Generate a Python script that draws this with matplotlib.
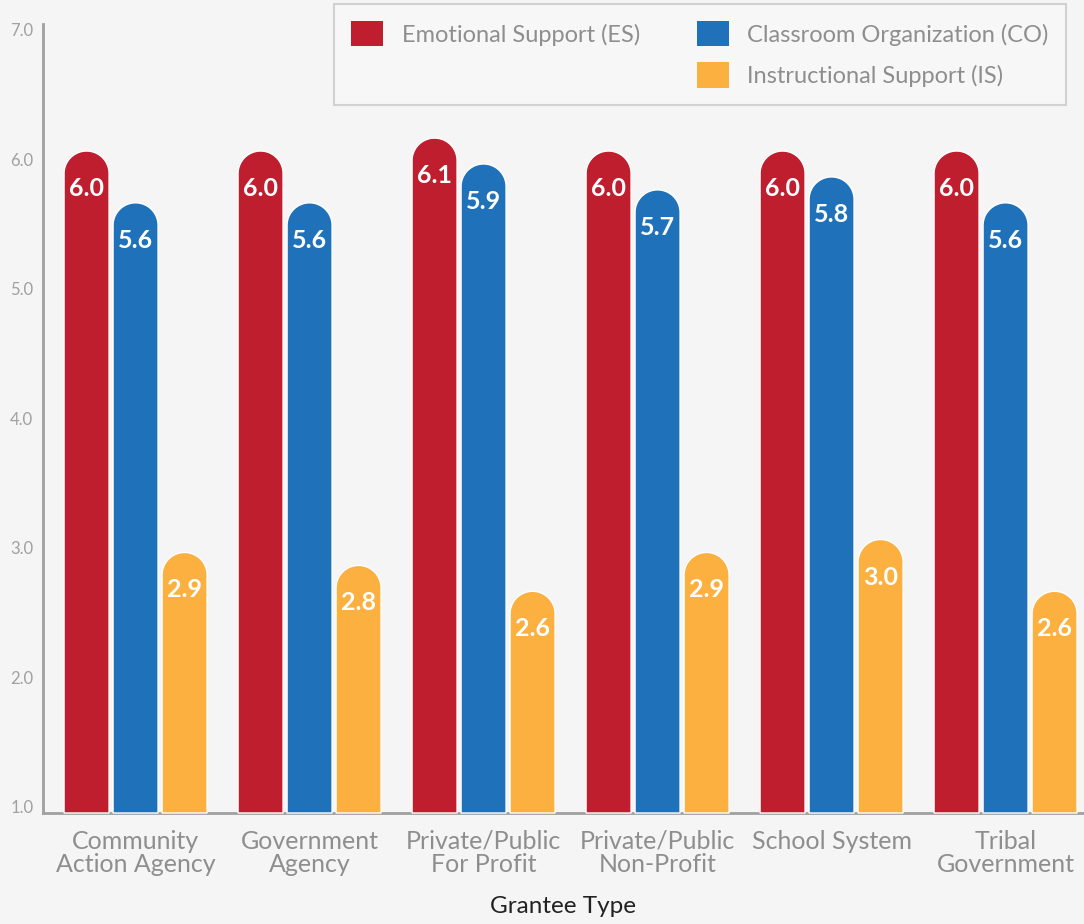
import numpy as np
import matplotlib
matplotlib.use("Agg")
import matplotlib.pyplot as plt
from matplotlib.path import Path
from matplotlib.patches import PathPatch, Patch

plt.rcParams['font.family'] = ['Lato', 'DejaVu Sans']

# ---- data ----
categories = ["Community\nAction Agency", "Government\nAgency", "Private/Public\nFor Profit",
              "Private/Public\nNon-Profit", "School System", "Tribal\nGovernment"]
es_values = [6.0, 6.0, 6.1, 6.0, 6.0, 6.0]
co_values = [5.6, 5.6, 5.9, 5.7, 5.8, 5.6]
is_values = [2.9, 2.8, 2.6, 2.9, 3.0, 2.6]
series_names = ["Emotional Support (ES)", "Classroom Organization (CO)", "Instructional Support (IS)"]
y_ticks = [1.0, 2.0, 3.0, 4.0, 5.0, 6.0, 7.0]

colors = ["#BE1E2D", "#1F72B9", "#FBB040"]
bg = "#F5F5F5"
grey_txt = "#8E8E8E"

W, H, DPI = 1084, 924, 100
fig = plt.figure(figsize=(W / DPI, H / DPI), dpi=DPI, facecolor=bg)

ax_left, ax_bottom_px, ax_top_px = 43, 813, 24
ax = fig.add_axes([ax_left / W, (H - ax_bottom_px) / H,
                   (W - ax_left) / W, (ax_bottom_px - ax_top_px) / H])
ax.set_facecolor(bg)

ymin, ymax = 1.0, 7.093
xmin = -0.532
xmax = xmin + (W - ax_left) / 174.0
ax.set_xlim(xmin, xmax)
ax.set_ylim(ymin, ymax)

# pixel scales of the axes
ax_w_px = W - ax_left
ax_h_px = ax_bottom_px - ax_top_px
ppx = ax_w_px / (xmax - xmin)
ppy = ax_h_px / (ymax - ymin)

bar_w = 45 / 174.0
offset = 49 / 174.0
radius_px = 22.5
cap_rise_px = 14.5  # how far the rounded cap reaches above the value


def rounded_bar(ax, xc, value, width, color):
    r_y = radius_px / ppy
    cy = value + cap_rise_px / ppy - r_y
    t = np.linspace(0, np.pi, 60)
    arc_x = xc + (width / 2) * np.cos(t)
    arc_y = cy + r_y * np.sin(t)
    xs = np.concatenate([[xc + width / 2], arc_x, [xc - width / 2, xc + width / 2]])
    ys = np.concatenate([[ymin], arc_y, [ymin, ymin]])
    verts = np.column_stack([xs, ys])
    codes = [Path.MOVETO] + [Path.LINETO] * (len(verts) - 2) + [Path.CLOSEPOLY]
    patch = PathPatch(Path(verts, codes), facecolor=color, edgecolor="white",
                      linewidth=1.0, zorder=3, clip_on=False)
    ax.add_patch(patch)


x = np.arange(len(categories))
for series, shift, color in zip([es_values, co_values, is_values], [-offset, 0, offset], colors):
    for xi, v in zip(x, series):
        rounded_bar(ax, xi + shift, v, bar_w, color)
        ax.annotate(f"{v:.1f}", xy=(xi + shift, v), xytext=(0, -23),
                    textcoords="offset pixels",
                    ha="center", va="center", color="white",
                    fontsize=18, fontweight="bold", zorder=4)

# axes styling
for side in ["top", "right"]:
    ax.spines[side].set_visible(False)
for side in ["left", "bottom"]:
    ax.spines[side].set_color("#A0A0A0")
    ax.spines[side].set_linewidth(2)

ax.set_yticks(y_ticks)
ax.set_yticklabels([f"{t:.1f}" for t in y_ticks], fontsize=12, color="#A0A0A0",
                   va="baseline")
ax.tick_params(axis="y", length=0, pad=7)

ax.set_xticks(x)
ax.set_xticklabels(categories, fontsize=18, color=grey_txt, linespacing=1.03)
ax.tick_params(axis="x", length=0, pad=12)

ax.set_xlabel("Grantee Type", fontsize=17.5, color="#222222", labelpad=14)

# legend with an empty slot so ES sits alone in the first column
handles = [Patch(facecolor=colors[0]), Patch(facecolor="none", edgecolor="none"),
           Patch(facecolor=colors[1]), Patch(facecolor=colors[2])]
labels = [series_names[0], "", series_names[1], series_names[2]]
leg = fig.legend(handles, labels, ncol=2, loc="upper left",
                 bbox_to_anchor=(334 / W, 1 - 4 / H), bbox_transform=fig.transFigure,
                 fontsize=17, frameon=True, fancybox=False,
                 handlelength=1.35, handleheight=1.27, handletextpad=0.8,
                 labelspacing=0.68, columnspacing=2.4, borderpad=0.72,
                 borderaxespad=0)
leg.get_frame().set_edgecolor("#C8C8C8")
leg.get_frame().set_facecolor("#F8F8F8")
leg.get_frame().set_linewidth(1.5)
for txt in leg.get_texts():
    txt.set_color(grey_txt)

fig.savefig("out.png", dpi=DPI, facecolor=bg)
